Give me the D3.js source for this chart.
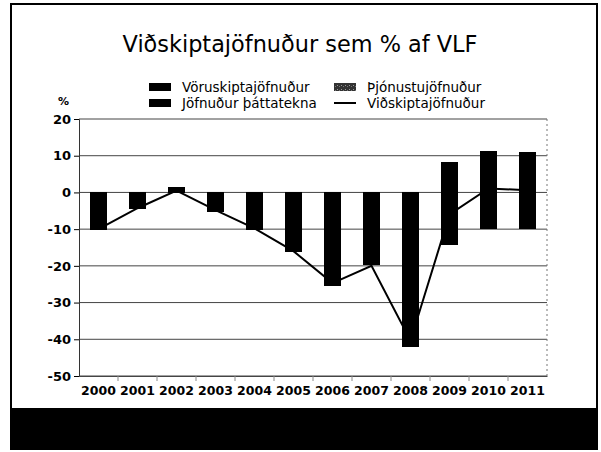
<!DOCTYPE html>
<html>
<head>
<meta charset="utf-8">
<script src="https://cdn.jsdelivr.net/npm/d3@7"></script>
<style>
  body { margin: 0; background: #fff; }
  text { font-family: "DejaVu Sans", Verdana, sans-serif; }
</style>
</head>
<body>
<div id="chart"></div>
<script>
// Data (% of GDP)
let years = ["2000", "2001", "2002", "2003", "2004", "2005", "2006", "2007", "2008", "2009", "2010", "2011"];
let goods    = [-6.0, -2.5, 1.2, -3.0, -6.5, -11.0, -16.0, -12.5, -10.5, 5.8, 7.4, 6.4];
let services = [-1.2, -0.5, 0.4, -0.7, -1.2, -2.6, -3.4, -2.7, -2.5, 2.5, 4.0, 4.5];
let income   = [-3.0, -1.5, 0.0, -1.5, -2.5, -2.5, -6.0, -4.5, -29.0, -14.3, -9.7, -9.7];
let current  = [-10.0, -4.3, 0.5, -4.8, -9.8, -16.0, -24.7, -20.0, -40.4, -6.0, 1.1, 0.6];
let yTicks = [20, 10, 0, -10, -20, -30, -40, -50];

let svgWidth = 601;
let svgHeight = 452;

let margin = { top: 119, right: 54, bottom: 76, left: 79 };
let width = 547 - margin.left;
let height = 376 - margin.top;

let svg = d3.select("#chart")
  .append("svg")
  .attr("width", svgWidth)
  .attr("height", svgHeight);

// pattern for the services swatch
let defs = svg.append("defs");
let pat = defs.append("pattern")
  .attr("id", "speckle")
  .attr("width", 4).attr("height", 4)
  .attr("patternUnits", "userSpaceOnUse");
pat.append("rect").attr("width", 4).attr("height", 4).attr("fill", "#333");
pat.append("rect").attr("x", 1).attr("y", 1).attr("width", 1).attr("height", 1).attr("fill", "#999");
pat.append("rect").attr("x", 3).attr("y", 2).attr("width", 1).attr("height", 1).attr("fill", "#777");

// outer frame and bottom band
svg.append("rect")
  .attr("x", 11).attr("y", 4)
  .attr("width", 586).attr("height", 445)
  .attr("fill", "none")
  .attr("stroke", "#000")
  .attr("stroke-width", 2);

svg.append("rect")
  .attr("x", 11).attr("y", 408)
  .attr("width", 586).attr("height", 41)
  .attr("fill", "#000");

// title
svg.append("text")
  .attr("x", 300).attr("y", 52)
  .attr("text-anchor", "middle")
  .attr("font-size", 22.4)
  .text("Viðskiptajöfnuður sem % af VLF");

let chartGroup = svg.append("g")
  .attr("transform", `translate(${margin.left}, ${margin.top})`);

let x = d3.scaleBand()
  .domain(years)
  .range([0, width])
  .paddingInner(0.58)
  .paddingOuter(0.29);

let y = d3.scaleLinear()
  .domain([-50, 20])
  .range([height, 0]);

// gridlines
chartGroup.append("g")
  .selectAll("line")
  .data(yTicks)
  .enter()
  .append("line")
  .attr("x1", 0).attr("x2", width)
  .attr("y1", d => y(d)).attr("y2", d => y(d))
  .attr("stroke", "#444")
  .attr("stroke-width", 1);

// right border of plot area (dotted)
chartGroup.append("line")
  .attr("x1", width).attr("x2", width)
  .attr("y1", 0).attr("y2", height)
  .attr("stroke", "#777")
  .attr("stroke-dasharray", "2,3");

// left axis
let leftAxis = d3.axisLeft(y)
  .tickValues(yTicks)
  .tickSize(5)
  .tickFormat(d3.format("d"));

let yAxis = chartGroup.append("g").call(leftAxis);
yAxis.select(".domain").attr("stroke", "#333");
yAxis.selectAll("text")
  .attr("font-size", 13)
  .attr("font-weight", "bold")
  .attr("x", -8)
  .text(d => d < 0 ? "-" + Math.abs(d) : d);

svg.append("text")
  .attr("x", 58).attr("y", 105)
  .attr("font-size", 11)
  .attr("font-weight", "bold")
  .text("%");

// bottom axis
let bottomAxis = d3.axisBottom(x).tickSize(0).tickPadding(10);
let xAxis = chartGroup.append("g")
  .attr("transform", `translate(0, ${height})`)
  .call(bottomAxis);
xAxis.select(".domain").attr("stroke", "#444");
xAxis.selectAll("text")
  .attr("font-size", 12.5)
  .attr("font-weight", "bold");

// small ticks between categories
chartGroup.append("g")
  .selectAll("line")
  .data(years.slice(1))
  .enter()
  .append("line")
  .attr("x1", d => x(d) - x.step() * x.paddingInner() / 2)
  .attr("x2", d => x(d) - x.step() * x.paddingInner() / 2)
  .attr("y1", height).attr("y2", height + 5)
  .attr("stroke", "#888");

// stacked bars: positive parts go up from 0, negative parts go down
let seriesList = [
  { name: "Vöruskiptajöfnuður", values: goods },
  { name: "Þjónustujöfnuður", values: services },
  { name: "Jöfnuður þáttatekna", values: income }
];

let posBase = years.map(() => 0);
let negBase = years.map(() => 0);
let barRects = [];
seriesList.forEach(s => {
  s.values.forEach((v, i) => {
    if (v >= 0) {
      barRects.push({ year: years[i], y0: posBase[i], y1: posBase[i] + v });
      posBase[i] += v;
    } else {
      barRects.push({ year: years[i], y0: negBase[i] + v, y1: negBase[i] });
      negBase[i] += v;
    }
  });
});

chartGroup.append("g")
  .attr("shape-rendering", "crispEdges")
  .selectAll("rect")
  .data(barRects)
  .enter()
  .append("rect")
  .attr("x", d => x(d.year))
  .attr("width", x.bandwidth())
  .attr("y", d => y(d.y1))
  .attr("height", d => y(d.y0) - y(d.y1) + 0.5)
  .attr("fill", "#000");

// current account line
let line = d3.line()
  .x((d, i) => x(years[i]) + x.bandwidth() / 2)
  .y(d => y(d));

chartGroup.append("path")
  .datum(current)
  .attr("d", line)
  .attr("fill", "none")
  .attr("stroke", "#000")
  .attr("stroke-width", 2);

// legend
let legend = svg.append("g").attr("font-size", 13.5);
let legendItems = [
  { label: "Vöruskiptajöfnuður", x: 149, y: 87, type: "box", fill: "#000" },
  { label: "Þjónustujöfnuður", x: 334, y: 87, type: "box", fill: "url(#speckle)" },
  { label: "Jöfnuður þáttatekna", x: 149, y: 103, type: "box", fill: "#000" },
  { label: "Viðskiptajöfnuður", x: 334, y: 103, type: "line" }
];

legendItems.forEach(d => {
  if (d.type === "box") {
    legend.append("rect")
      .attr("x", d.x).attr("y", d.y - 4)
      .attr("width", 22).attr("height", 8)
      .attr("fill", d.fill);
  } else {
    legend.append("line")
      .attr("x1", d.x).attr("x2", d.x + 22)
      .attr("y1", d.y).attr("y2", d.y)
      .attr("stroke", "#000")
      .attr("stroke-width", 2);
  }
  legend.append("text")
    .attr("x", d.x + 33)
    .attr("y", d.y + 5)
    .text(d.label);
});
</script>
</body>
</html>
